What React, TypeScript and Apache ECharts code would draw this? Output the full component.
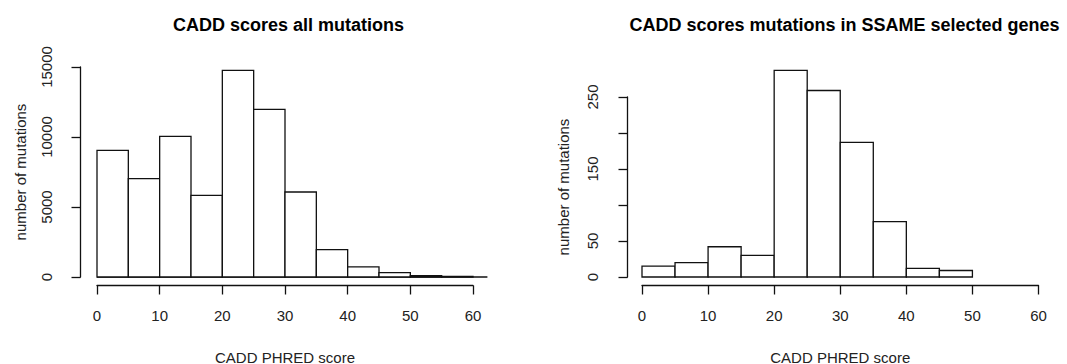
import React, { useEffect, useRef } from "react";
import * as echarts from "echarts";

const binStarts = [0, 5, 10, 15, 20, 25, 30, 35, 40, 45, 50, 55];
const binWidth = 5;
const allCounts = [9050, 7020, 10050, 5830, 14760, 11970, 6070, 1950, 720, 310, 100, 50];
const ssameCounts = [15, 20, 42, 30, 287, 259, 187, 77, 12, 9];
const leftBaselineEnd = 62.3;
const leftYTicks = [0, 5000, 10000, 15000];
const rightYLabelled = [0, 50, 150, 250];

const titles = ["CADD scores all mutations", "CADD scores mutations in SSAME selected genes"];
const xName = "CADD PHRED score";
const yName = "number of mutations";

const FONT = "'Liberation Sans', Arial, sans-serif";
const TXT = "#222";
const LINE = "#111";

function toBins(counts: number[]) {
  return counts.map((c, i) => [binStarts[i], binStarts[i] + binWidth, c]);
}

const renderBar = (params: any, api: any) => {
  const p0 = api.coord([api.value(0), api.value(2)]);
  const p1 = api.coord([api.value(1), 0]);
  return {
    type: "rect",
    shape: { x: p0[0], y: p0[1], width: p1[0] - p0[0], height: p1[1] - p0[1] },
    style: { fill: "#fff", stroke: LINE, lineWidth: 1.3 },
  };
};

const renderBaseline = (params: any, api: any) => {
  const p0 = api.coord([api.value(0), 0]);
  const p1 = api.coord([api.value(1), 0]);
  return {
    type: "line",
    shape: { x1: p0[0], y1: p0[1], x2: p1[0], y2: p1[1] },
    style: { stroke: LINE, lineWidth: 1.3 },
  };
};

function xAxis(gridIndex: number) {
  return {
    type: "value",
    gridIndex,
    min: 0,
    max: 60,
    interval: 10,
    offset: 8.5,
    name: xName,
    nameLocation: "middle",
    nameGap: 64,
    nameTextStyle: { fontFamily: FONT, fontSize: 15, color: TXT },
    axisLine: { show: true, onZero: false, lineStyle: { color: LINE, width: 1.3 } },
    axisTick: { show: true, length: 9, lineStyle: { color: LINE, width: 1.3 } },
    axisLabel: { fontFamily: FONT, fontSize: 15, color: TXT, margin: 22 },
    splitLine: { show: false },
  };
}

function yAxis(
  gridIndex: number,
  max: number,
  interval: number,
  offset: number,
  labelled: number[],
  nameGap: number,
  labelMargin: number
) {
  return {
    type: "value",
    gridIndex,
    position: "left",
    min: 0,
    max,
    interval,
    offset,
    name: yName,
    nameLocation: "middle",
    nameGap,
    nameTextStyle: { fontFamily: FONT, fontSize: 15, color: TXT },
    axisLine: { show: true, onZero: false, lineStyle: { color: LINE, width: 1.3 } },
    axisTick: { show: true, length: 9, lineStyle: { color: LINE, width: 1.3 } },
    axisLabel: {
      fontFamily: FONT,
      fontSize: 15,
      color: TXT,
      rotate: 90,
      margin: labelMargin,
      formatter: (v: number) => (labelled.indexOf(v) >= 0 ? String(v) : ""),
    },
    splitLine: { show: false },
  };
}

export default function App() {
  const ref = useRef<HTMLDivElement>(null);
  useEffect(() => {
    if (!ref.current) return;
    const chart = echarts.init(ref.current, null, { renderer: "svg" });
    chart.setOption({
      animation: false,
      backgroundColor: "#fff",
      title: [
        {
          text: titles[0],
          left: 283.5,
          top: 11,
          textAlign: "center",
          textStyle: { fontFamily: FONT, fontSize: 18, fontWeight: "bold", color: "#000" },
        },
        {
          text: titles[1],
          left: 839.5,
          top: 11,
          textAlign: "center",
          textStyle: { fontFamily: FONT, fontSize: 18, fontWeight: "bold", color: "#000" },
        },
      ],
      grid: [
        { left: 97, top: 67, width: 376, height: 210, containLabel: false, outerBoundsMode: "none" },
        { left: 642, top: 97, width: 396.5, height: 180, containLabel: false, outerBoundsMode: "none" },
      ],
      xAxis: [xAxis(0), xAxis(1)],
      yAxis: [
        yAxis(0, leftYTicks[leftYTicks.length - 1], 5000, 16.5, leftYTicks, 52.7, 27),
        yAxis(1, 250, 50, 14.5, rightYLabelled, 57, 28),
      ],
      series: [
        {
          type: "custom",
          xAxisIndex: 0,
          yAxisIndex: 0,
          clip: false,
          renderItem: renderBaseline,
          encode: { x: [0, 1] },
          data: [[0, leftBaselineEnd]],
        },
        {
          type: "custom",
          xAxisIndex: 0,
          yAxisIndex: 0,
          clip: false,
          renderItem: renderBar,
          encode: { x: [0, 1], y: 2 },
          data: toBins(allCounts),
        },
        {
          type: "custom",
          xAxisIndex: 1,
          yAxisIndex: 1,
          clip: false,
          renderItem: renderBar,
          encode: { x: [0, 1], y: 2 },
          data: toBins(ssameCounts),
        },
      ],
    });
    return () => chart.dispose();
  }, []);
  return (
    <div
      ref={ref}
      style={{ position: "absolute", left: 0, top: 0, width: 1067, height: 364 }}
    />
  );
}
